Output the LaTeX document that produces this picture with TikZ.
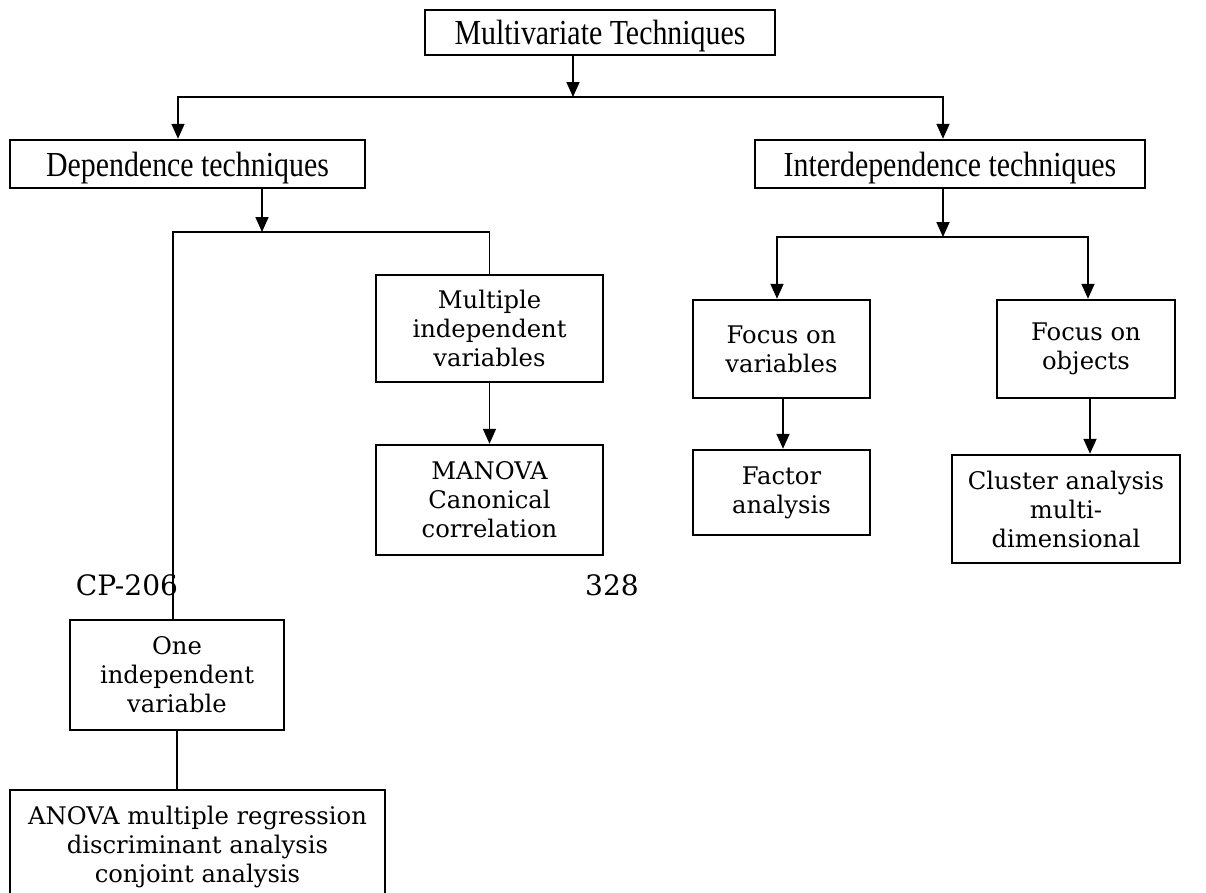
\documentclass[tikz,border=0pt]{standalone}
\usepackage{fontspec}
\setmainfont{DejaVu Serif}
\newfontfamily\narrowfont[FakeStretch=0.85]{Liberation Serif}
\usepackage{tikz}
\usetikzlibrary{positioning,arrows.meta,calc}
\tikzset{
    techbox/.style={
        draw=black, line width=1.4pt, inner sep=2pt,
        font=\fontsize{13.8}{16.5}\selectfont, align=center
    },
    headbox/.style={
        draw=black, line width=1.4pt, inner sep=2pt, text depth=0pt,
        font=\narrowfont\fontsize{20}{22}\selectfont, align=center
    },
    arrow/.style={-{Triangle[length=3mm,width=2.6mm]}, line width=1pt},
    link/.style={line width=1pt},
}

\begin{document}
\begin{tikzpicture}
    \useasboundingbox (0,0) rectangle (24.12,-17.86);
    \begin{scope}
    \clip (0,0) rectangle (24.12,-17.86);
    % top level
    \node[headbox, minimum width=7cm, minimum height=0.9cm] (top) at (12.0,-0.65) {Multivariate Techniques};
    \node[headbox, minimum width=7.1cm, minimum height=0.96cm] (dep) at (3.75,-3.28) {Dependence techniques};
    \node[headbox, minimum width=7.8cm, minimum height=0.96cm] (interdep) at (19.0,-3.28) {Interdependence techniques};
    \coordinate (split) at (11.46,-1.94);
    \draw[arrow] (top.south -| split) -- (split);
    \draw[arrow] (split) -| (3.56,0 |- dep.north);
    \draw[arrow] (split) -| (18.86,0 |- interdep.north);

    % dependence side
    \node[techbox, minimum width=4.54cm, minimum height=2.14cm] (multi) at (9.79,-6.57) {Multiple\\independent\\variables};
    \node[techbox, minimum width=4.54cm, minimum height=2.2cm] (manova) at (9.79,-10.0) {MANOVA\\Canonical\\correlation};
    \node[techbox, minimum width=4.28cm, minimum height=2.2cm] (onevar) at (3.54,-13.5) {One\\independent\\variable};
    \node[techbox, minimum width=7.5cm, minimum height=2.28cm] (anova) at (3.95,-16.94) {ANOVA multiple regression\\discriminant analysis\\conjoint analysis};
    \coordinate (depsplit) at (5.24,-4.64);
    \draw[arrow] (dep.south -| depsplit) -- (depsplit);
    \draw[link] (onevar.north -| 3.46,0) |- (depsplit) -| (multi.north);
    \draw[arrow] (multi) -- (manova);
    \draw[link] (onevar) -- (onevar.south |- anova.north);

    % interdependence side
    \node[techbox, minimum width=3.54cm, minimum height=1.96cm] (focvar) at (15.63,-6.98) {Focus on\\variables};
    \node[techbox, minimum width=3.56cm, minimum height=1.96cm] (focobj) at (21.72,-6.98) {Focus on\\objects};
    \node[techbox, minimum width=3.54cm, minimum height=1.7cm] (factor) at (15.63,-9.85) {Factor\\analysis};
    \node[techbox, minimum width=4.56cm, minimum height=2.16cm] (cluster) at (21.32,-10.18) {Cluster analysis\\multi-\\dimensional};
    \coordinate (intsplit) at (18.86,-4.74);
    \draw[arrow] (interdep.south -| intsplit) -- (intsplit);
    \draw[arrow] (intsplit) -| (15.54,0 |- focvar.north);
    \draw[arrow] (intsplit) -| (21.76,0 |- focobj.north);
    \draw[arrow] (focvar.south -| 15.66,0) -- (15.66,0 |- factor.north);
    \draw[arrow] (focobj.south -| 21.8,0) -- (21.8,0 |- cluster.north);

    % page footer
    \node[font=\fontsize{16}{18}\selectfont] (cp) at (2.54,-11.7) {CP-206};
    \node[font=\fontsize{16}{18}\selectfont] (pagenum) at (12.24,-11.7) {328};
    \end{scope}
\end{tikzpicture}
\end{document}
